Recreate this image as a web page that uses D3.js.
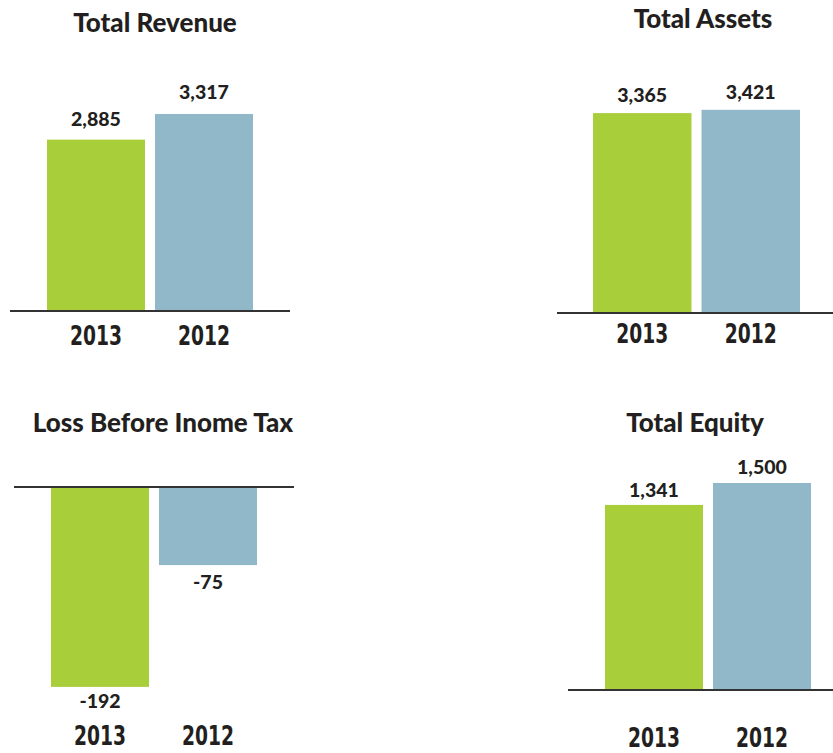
<!DOCTYPE html>
<html>
<head>
<meta charset="utf-8">
<script src="https://cdn.jsdelivr.net/npm/d3@7"></script>
<style>
  html, body { margin: 0; padding: 0; background: #ffffff; }
  svg { display: block; }
  .title { font-family: Lato, "Open Sans", sans-serif; font-weight: 900; font-size: 26px; fill: #231f20; }
  .val { font-family: Lato, "Open Sans", sans-serif; font-weight: 900; font-size: 19.5px; fill: #231f20; }
  .year { font-family: "DejaVu Sans", sans-serif; font-weight: 700; font-size: 26.5px; fill: #231f20; }
</style>
</head>
<body>
<svg id="chart" width="833" height="753"></svg>
<script>
// ---- data ----
const categories = ["2013", "2012"];
const totalRevenue = [2885, 3317];
const totalAssets = [3365, 3421];
const lossBeforeIncomeTax = [-192, -75];
const totalEquity = [1341, 1500];
const titles = ["Total Revenue", "Total Assets", "Loss Before Inome Tax", "Total Equity"];
const colors = ["#a8ce3a", "#91b8c9"];

// ---- layout (per panel) ----
const panels = [
  { title: titles[0], values: totalRevenue, base: 311, lineX: [10, 290], barX: [47, 253], pxPerUnit: 0.0594, titleX: 155, titleY: 32, yearY: 345, labelGap: [14, 15] },
  { title: titles[1], values: totalAssets, base: 313, lineX: [557, 833], barX: [593, 800], pxPerUnit: 0.0594, titleX: 703, titleY: 28, yearY: 343, labelGap: [11, 11] },
  { title: titles[2], values: lossBeforeIncomeTax, base: 487, lineX: [14, 294], barX: [51, 257], pxPerUnit: 1.041, titleX: 163, titleY: 432, yearY: 745, labelGap: [21, 24] },
  { title: titles[3], values: totalEquity, base: 690, lineX: [568, 833], barX: [605, 811], pxPerUnit: 0.138, titleX: 695, titleY: 432, yearY: 747, labelGap: [8, 9] }
];

const svg = d3.select("#chart");
const fmt = d3.format(",");

panels.forEach(p => {
  const g = svg.append("g");
  const x = d3.scaleBand().domain(categories).range(p.barX).paddingInner(10 / 108).paddingOuter(0);
  const maxAbs = d3.max(p.values, v => Math.abs(v));
  const neg = p.values.every(v => v <= 0);
  const y = d3.scaleLinear()
    .domain(neg ? [0, -maxAbs] : [0, maxAbs])
    .range(neg ? [p.base, p.base + maxAbs * p.pxPerUnit] : [p.base, p.base - maxAbs * p.pxPerUnit]);

  const data = categories.map((c, i) => ({ cat: c, v: p.values[i], i }));

  g.selectAll("rect").data(data).join("rect")
    .attr("x", d => x(d.cat))
    .attr("width", x.bandwidth())
    .attr("y", d => Math.min(y(0), y(d.v)))
    .attr("height", d => Math.abs(y(d.v) - y(0)))
    .attr("fill", d => colors[d.i]);

  g.append("line")
    .attr("x1", p.lineX[0]).attr("x2", p.lineX[1])
    .attr("y1", p.base).attr("y2", p.base)
    .attr("stroke", "#333333").attr("stroke-width", 2);

  g.selectAll("text.val").data(data).join("text")
    .attr("class", "val")
    .attr("text-anchor", "middle")
    .attr("x", d => x(d.cat) + x.bandwidth() / 2)
    .attr("y", d => d.v >= 0 ? y(d.v) - p.labelGap[d.i] : y(d.v) + p.labelGap[d.i])
    .text(d => fmt(d.v).replace("−", "-"));

  g.selectAll("text.year").data(data).join("text")
    .attr("class", "year")
    .attr("text-anchor", "middle")
    .attr("x", d => x(d.cat) + x.bandwidth() / 2)
    .attr("y", p.yearY)
    .attr("textLength", 52)
    .attr("lengthAdjust", "spacingAndGlyphs")
    .text(d => d.cat);

  g.append("text")
    .attr("class", "title")
    .attr("text-anchor", "middle")
    .attr("x", p.titleX)
    .attr("y", p.titleY)
    .text(p.title);
});
</script>
</body>
</html>
